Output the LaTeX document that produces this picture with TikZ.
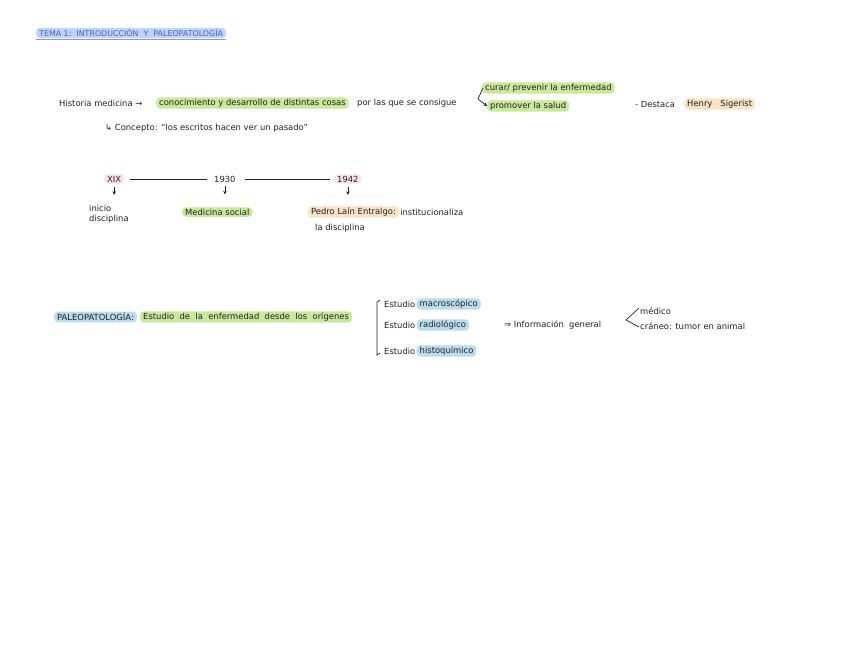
\documentclass[tikz,border=0pt]{standalone}
\usepackage{fontspec}
\setmainfont{DejaVu Sans}
\definecolor{ink}{HTML}{222222}
\definecolor{hgreen}{HTML}{C8E89C}
\definecolor{hblue}{HTML}{B9DCEF}
\definecolor{horange}{HTML}{FBE2C4}
\definecolor{hpink}{HTML}{FAE3EA}
\definecolor{tblue}{HTML}{BCD6F6}
\definecolor{tink}{HTML}{4A5AD6}
\definecolor{uline}{HTML}{8C8EF2}
\usetikzlibrary{arrows.meta}
\tikzset{
  txt/.style={anchor=west, inner sep=1pt, font=\fontsize{8.4}{10}\selectfont, text=ink},
  hl/.style={txt, rounded corners=4pt, inner xsep=3pt, inner ysep=1.5pt},
  hlg/.style={hl, fill=hgreen},
  hlb/.style={hl, fill=hblue},
  hlo/.style={hl, fill=horange},
  hlp/.style={hl, fill=hpink},
  ttl/.style={hl, fill=tblue, text=tink, font=\fontsize{7.9}{9}\selectfont},
  con/.style={draw=ink, line width=0.7pt},
  arr/.style={con, -{Stealth[length=3.5pt,width=3.5pt]}}
}
\begin{document}
\begin{tikzpicture}[x=1pt,y=-1pt]
\useasboundingbox[fill=white] (0,0) rectangle (848,656);

% title
\node[ttl] (title) at (36,33) {TEMA 1:\ \ INTRODUCCIÓN \ Y \ PALEOPATOLOGÍA};
\draw[draw=uline, line width=1.4pt] ([yshift=-1pt]title.south west) -- ([yshift=-1pt]title.south east);

% line 1
\node[txt] (hist) at (58,103) {Historia medicina →};
\node[hlg] (conoc) at (156,103) {conocimiento y desarrollo de distintas cosas};
\node[txt] (por) at (356,103) {por las que se consigue};
\coordinate (apex) at (478,99);
\node[hlg] (curar) at (482,88) {curar/ prevenir la enfermedad};
\node[hlg] (prom) at (487,106) {promover la salud};
\draw[con] (apex) -- ([xshift=1pt]curar.west);
\draw[arr] (apex) -- (prom.west);
\node[txt] (dest) at (634,104) {- Destaca};
\node[hlo] (henry) at (684,104) {Henry \ \ Sigerist};

% line 2
\node[txt] (concepto) at (104,128) {↳ Concepto: “los escritos hacen ver un pasado”};

% timeline
\node[hlp] (xix) at (104,179) {XIX};
\node[txt] (y1930) at (213,179) {1930};
\node[hlp] (y1942) at (334,179) {1942};
\draw[con] ([xshift=6pt]xix.east) -- ([xshift=-6pt]y1930.west);
\draw[con] ([xshift=8pt]y1930.east) -- ([xshift=-4pt]y1942.west);

\node[txt, align=left] (inicio) at (88,214) {inicio\\disciplina};
\node[hlg] (medsoc) at (182,212) {Medicina social};
\node[hlo] (pedro) at (308,212) {Pedro Laín Entralgo:};
\node[txt] (inst) at (pedro.east) {institucionaliza};
\node[txt] (ladis) at (314,228) {la disciplina};

\draw[arr] ([yshift=-3pt]xix.south) -- ++(0,8);
\draw[arr] ([yshift=-3pt]y1930.south) -- ++(0,8);
\draw[arr] ([yshift=-3pt]y1942.south) -- ++(0,8);

% paleopatologia
\node[hlb] (paleo) at (54,317) {PALEOPATOLOGÍA:};
\node[hlg] (estudio) at (140,317) {Estudio \ de \ la \ enfermedad \ desde \ los \ orígenes};

\coordinate (brt) at (380,300);
\coordinate (brb) at (380,353);
\draw[con] (brt) -- ++(-3,2) -- ([xshift=-3pt,yshift=-2pt]brb) -- (brb);

\node[txt] (e1) at (383,304) {Estudio};
\node[hlb] (macro) at (e1.east) {macroscópico};
\node[txt] (e2) at (383,325) {Estudio};
\node[hlb] (radio) at (e2.east) {radiológico};
\node[txt] (e3) at (383,351) {Estudio};
\node[hlb] (histo) at (e3.east) {histoquímico};

\node[txt] (info) at (503,325) {⇒ Información \ general};
\coordinate (apex2) at (626,320);
\node[txt] (medico) at (639,311) {médico};
\node[txt] (craneo) at (639,326) {cráneo: tumor en animal};
\draw[con] (apex2) -- ([yshift=3pt]medico.west);
\draw[con] (apex2) -- ([yshift=-1pt]craneo.west);
\end{tikzpicture}
\end{document}
